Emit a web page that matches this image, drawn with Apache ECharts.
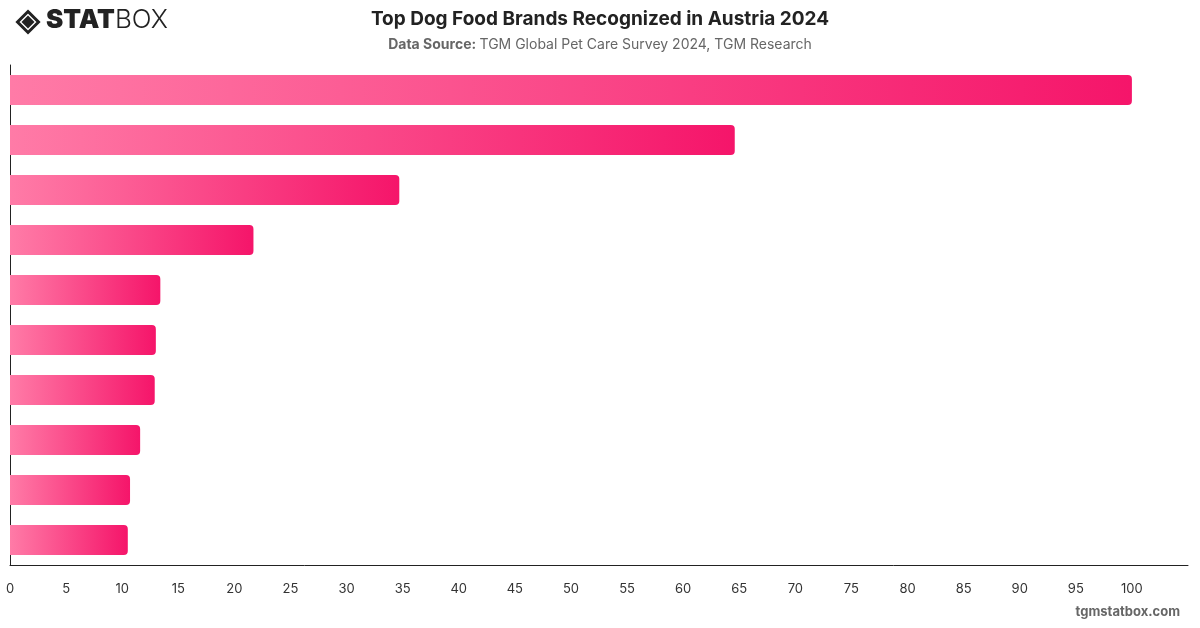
<!DOCTYPE html>
<html>
<head>
<meta charset="utf-8">
<script src="https://cdn.jsdelivr.net/npm/echarts@6/dist/echarts.min.js"></script>
<style>
  html, body { margin: 0; padding: 0; background: #fff; }
  #chart { width: 1200px; height: 628px; }
</style>
</head>
<body>
<div id="chart"></div>
<script>
// brand names are not printed on the reference, only the bars
const brands = ['Brand 1', 'Brand 2', 'Brand 3', 'Brand 4', 'Brand 5', 'Brand 6', 'Brand 7', 'Brand 8', 'Brand 9', 'Brand 10'];
const shares = [100, 64.6, 34.7, 21.7, 13.4, 13.0, 12.9, 11.6, 10.7, 10.5];
const xTicks = [0, 5, 10, 15, 20, 25, 30, 35, 40, 45, 50, 55, 60, 65, 70, 75, 80, 85, 90, 95, 100];

const chart = echarts.init(document.getElementById('chart'));
const font = 'Inter, "Noto Sans", sans-serif';

chart.setOption({
  animation: false,
  textStyle: { fontFamily: font },
  title: {
    text: 'Top Dog Food Brands Recognized in Austria 2024',
    left: 'center', top: 5,
    textStyle: { fontSize: 19, fontWeight: 'bold', color: '#222', fontFamily: font },
    subtext: '{b|Data Source:} {n|TGM Global Pet Care Survey 2024, TGM Research}',
    itemGap: 9,
    subtextStyle: {
      rich: {
        b: { fontSize: 14, fontWeight: 'bold', color: '#666', fontFamily: font },
        n: { fontSize: 14, color: '#666', fontFamily: font },
      },
    },
  },
  grid: { left: 10, right: 12, top: 65, bottom: 63, containLabel: false },
  xAxis: {
    type: 'value', min: 0, max: 105, interval: 5,
    axisLine: { show: true, lineStyle: { color: '#222', width: 1 } },
    axisTick: { show: false },
    splitLine: { show: false },
    axisLabel: {
      margin: 18, fontSize: 13, color: '#333', showMaxLabel: false,
      formatter: v => (xTicks.includes(v) ? String(v) : ''),
    },
  },
  yAxis: {
    type: 'category', data: brands, inverse: true,
    axisLine: { show: true, lineStyle: { color: '#222', width: 1 } },
    axisTick: { show: false },
    axisLabel: { show: false },
  },
  series: [{
    type: 'bar',
    data: shares,
    barCategoryGap: '40%',
    itemStyle: {
      borderRadius: [0, 4, 4, 0],
      color: new echarts.graphic.LinearGradient(0, 0, 1, 0, [
        { offset: 0, color: '#ff7ba7' },
        { offset: 1, color: '#f5156a' },
      ]),
    },
  }],
  graphic: [
    {
      type: 'group', left: 15, top: 9,
      children: [
        {
          type: 'polygon',
          shape: { points: [[12, 1.5], [22.5, 12], [12, 22.5], [1.5, 12]] },
          style: { fill: 'none', stroke: '#222', lineWidth: 3 },
        },
        {
          type: 'polygon',
          shape: { points: [[12, 5.5], [18.5, 12], [12, 18.5], [5.5, 12]] },
          style: { fill: '#222' },
        },
      ],
    },
    {
      type: 'text', left: 46, top: 7,
      style: {
        text: '{s|STAT}{b|BOX}',
        rich: {
          s: { fontSize: 26, fontWeight: 900, fill: '#222', fontFamily: font },
          b: { fontSize: 26, fontWeight: 300, fill: '#222', fontFamily: font },
        },
      },
    },
    {
      type: 'text', right: 20, top: 606,
      style: { text: 'tgmstatbox.com', fontSize: 13, fontWeight: 'bold', fill: '#666', fontFamily: font },
    },
  ],
});
</script>
</body>
</html>
